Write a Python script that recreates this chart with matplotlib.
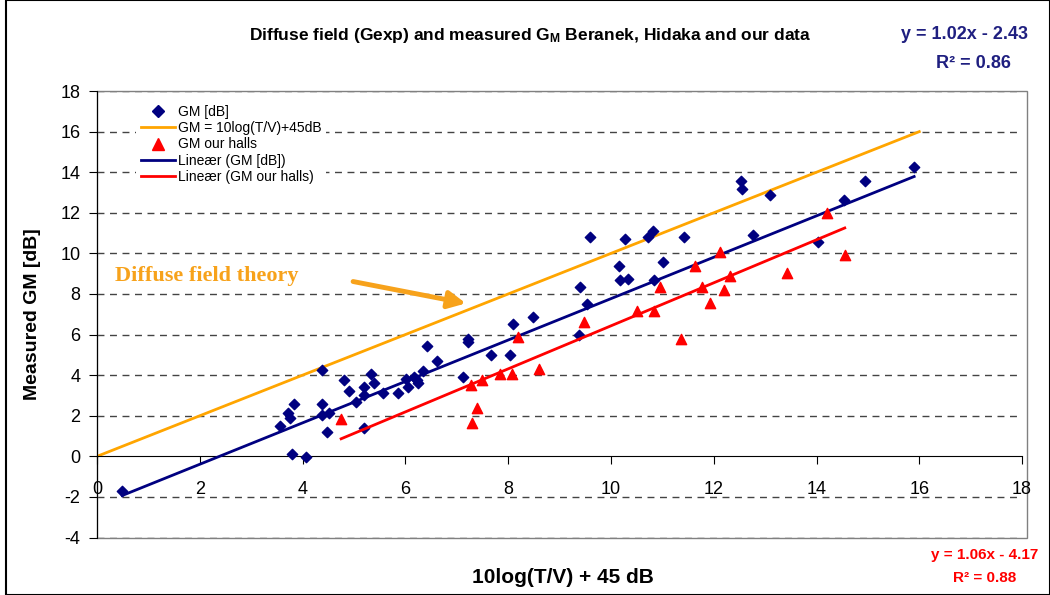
import numpy as np
import matplotlib
matplotlib.use('Agg')
import matplotlib.pyplot as plt
from matplotlib.lines import Line2D
from matplotlib.patches import Rectangle

plt.rcParams['font.family'] = ['Liberation Sans', 'DejaVu Sans']
plt.rcParams['axes.unicode_minus'] = False
plt.rcParams['mathtext.fontset'] = 'custom'
plt.rcParams['mathtext.rm'] = 'Liberation Sans'
plt.rcParams['mathtext.bf'] = 'Liberation Sans:bold'

# all halls (Beranek, Hidaka and ours) - 10log(T/V)+45 vs measured GM
gm_x = [0.49, 3.57, 3.72, 3.76, 3.83, 3.80, 4.07, 4.37, 4.37, 4.38, 4.52, 4.48,
        4.80, 4.91, 5.03, 5.20, 5.20, 5.34, 5.38, 5.20, 5.56, 5.85, 6.02, 6.06,
        6.16, 6.24, 6.22, 6.34, 6.43, 6.61, 7.21, 7.21, 7.12, 7.66, 8.03, 8.10,
        8.48, 9.37, 9.40, 9.53, 9.60, 10.15, 10.18, 10.28, 10.34, 10.73, 10.81,
        10.83, 11.02, 11.42, 12.53, 12.55, 12.76, 13.10, 14.02, 14.53, 14.94, 15.90]
gm_y = [-1.73, 1.50, 2.14, 1.90, 2.59, 0.12, -0.01, 4.26, 2.59, 2.04, 2.14, 1.21,
        3.77, 3.23, 2.68, 3.42, 3.03, 4.06, 3.62, 1.40, 3.13, 3.13, 3.82, 3.42,
        3.92, 3.62, 3.77, 4.21, 5.44, 4.70, 5.64, 5.80, 3.92, 5.00, 5.00, 6.50,
        6.87, 6.00, 8.32, 7.51, 10.80, 9.40, 8.69, 10.71, 8.74, 10.80, 11.10,
        8.69, 9.60, 10.80, 13.57, 13.18, 10.91, 12.90, 10.58, 12.64, 13.57, 14.28]

# our halls
our_x = [4.75, 7.27, 7.29, 7.39, 7.49, 7.84, 8.07, 8.19, 8.60, 9.47, 10.50, 10.83,
         10.96, 11.36, 11.64, 11.77, 11.93, 12.12, 12.20, 12.31, 13.42, 14.20, 14.55]
our_y = [1.85, 3.52, 1.65, 2.39, 3.77, 4.06, 4.06, 5.90, 4.31, 6.61, 7.18, 7.18,
         8.32, 5.79, 9.38, 8.32, 7.58, 10.09, 8.20, 8.89, 9.02, 11.98, 9.93]

# diffuse field theory GM = 10log(T/V)+45dB
theory_x = [0, 16]

# linear trendlines (slope, intercept)
fit_all = (1.02, -2.43)
fit_our = (1.06, -4.17)

navy = '#000080'
orange = '#FFA500'

fig = plt.figure(figsize=(10.5, 5.95), dpi=100)
ax = fig.add_axes([0.0924, 0.0966, 0.881, 0.7504])

ax.set_xlim(0, 18)
ax.set_ylim(-4, 18)
ax.set_xticks(np.arange(0, 19, 2))
ax.set_yticks(np.arange(-4, 19, 2))
for yv in np.arange(-4, 19, 2):
    if yv != 0:
        ax.axhline(yv, color='#444444', lw=1, dashes=(5, 4), zorder=0)

for s in ['top', 'right']:
    ax.spines[s].set_visible(False)
ax.spines['bottom'].set_position(('data', 0))
ax.spines['bottom'].set_color('black')
ax.spines['left'].set_color('black')
ax.add_patch(Rectangle((0, 0), 1.005, 1, transform=ax.transAxes, fill=False,
                       ec='#808080', lw=1, clip_on=False, zorder=0))
ax.tick_params(axis='x', direction='out', length=6, pad=12, labelsize=13)
ax.tick_params(axis='y', direction='out', length=6, pad=6, labelsize=13)

tx = np.array(theory_x)
ax.plot(tx, tx + 0, color=orange, lw=2, zorder=2)

ax.scatter(gm_x, gm_y, marker='D', s=28, color=navy, zorder=3)
ax.scatter(our_x, our_y, marker='^', s=55, color='red', zorder=4)

xa = np.array([min(gm_x), max(gm_x)])
ax.plot(xa, fit_all[0] * xa + fit_all[1], color=navy, lw=2, zorder=3)
xo = np.array([min(our_x), max(our_x)])
ax.plot(xo, fit_our[0] * xo + fit_our[1], color='red', lw=2, zorder=4)

ax.annotate('', xy=(7.23, 7.51), xytext=(4.93, 8.64),
            arrowprops=dict(arrowstyle='-|>', color='#F7A21B', lw=3.5, mutation_scale=26))
ax.text(0.35, 8.89, 'Diffuse field theory', color='#F7A21B', fontsize=16,
        fontweight='bold', family=['Liberation Serif', 'DejaVu Serif'], va='center')

handles = [
    Line2D([], [], marker='D', ls='none', color=navy, markersize=6),
    Line2D([], [], color=orange, lw=2),
    Line2D([], [], marker='^', ls='none', color='red', markersize=8),
    Line2D([], [], color=navy, lw=2),
    Line2D([], [], color='red', lw=2),
]
labels = ['GM [dB]', 'GM = 10log(T/V)+45dB', 'GM our halls',
          'Lineær (GM [dB])', 'Lineær (GM our halls)']
leg = ax.legend(handles, labels, loc='upper left', bbox_to_anchor=(0.035, 0.993),
                fontsize=10, frameon=True, fancybox=False, edgecolor='none',
                facecolor='white', framealpha=1, labelspacing=0.15,
                handlelength=2.5, handletextpad=0.2, borderpad=0.3)
leg.set_zorder(5)

fig.text(0.031, 0.472, 'Measured GM [dB]', fontsize=14, fontweight='bold',
         rotation=90, ha='center', va='center')
fig.text(0.536, 0.029, '10log(T/V) + 45 dB', fontsize=15, fontweight='bold',
         ha='center', va='center')

fig.text(0.505, 0.941, r'Diffuse field (Gexp) and measured $\mathbf{G_M}$ Beranek, Hidaka and our data',
         fontsize=12.5, fontweight='bold', ha='center', va='center')

fig.text(0.919, 0.942, 'y = 1.02x - 2.43', color='#1F1F80', fontsize=13, fontweight='bold',
         ha='center', va='center')
fig.text(0.927, 0.893, 'R² = 0.86', color='#1F1F80', fontsize=13, fontweight='bold',
         ha='center', va='center')

fig.text(0.938, 0.067, 'y = 1.06x - 4.17', color='red', fontsize=11, fontweight='bold',
         ha='center', va='center')
fig.text(0.938, 0.028, 'R² = 0.88', color='red', fontsize=11, fontweight='bold',
         ha='center', va='center')

fig.add_artist(Rectangle((0.006, 0.0), 0.994, 1, transform=fig.transFigure, fill=False,
                         ec='black', lw=1.5))

fig.savefig('out.png', dpi=100)
